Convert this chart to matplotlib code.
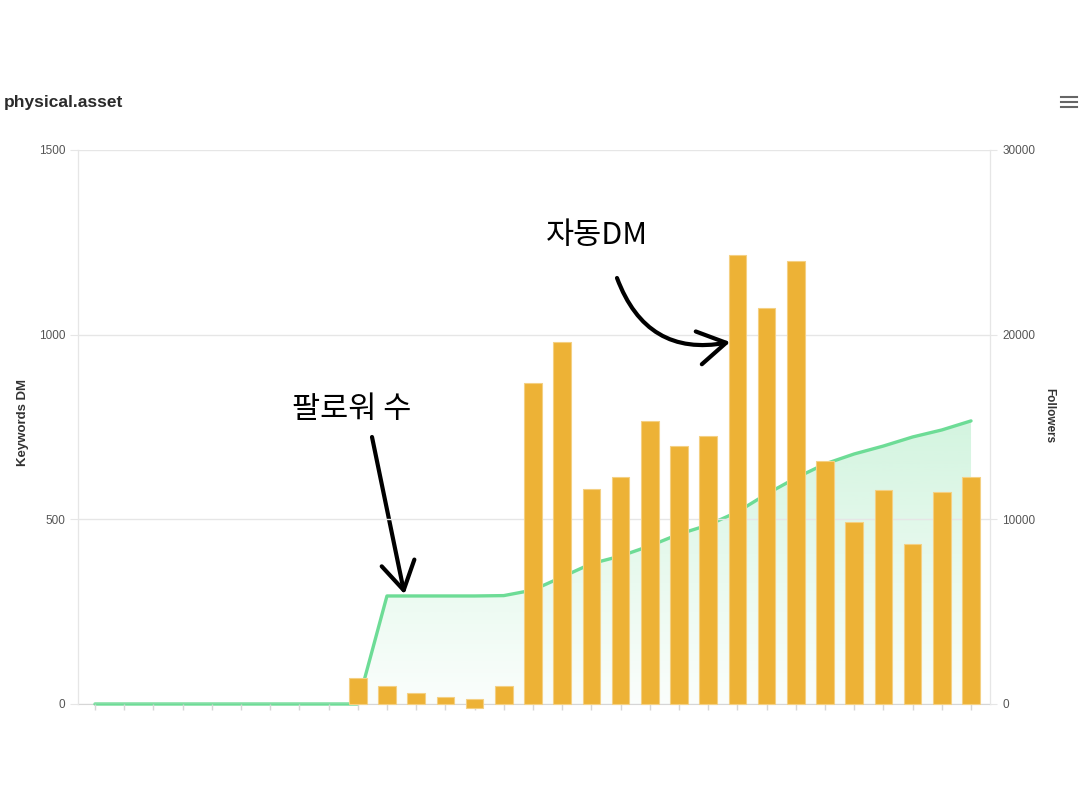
import numpy as np
import matplotlib
matplotlib.use('Agg')
import matplotlib.pyplot as plt
from matplotlib.patches import Polygon
from matplotlib.lines import Line2D

plt.rcParams['font.family'] = ['Liberation Sans', 'DejaVu Sans']

# 데이터
days = np.arange(31)
keyword_dm = [0] * 9 + [70, 49, 30, 19, 14, 49, 869, 980, 582, 615, 766,
                        699, 726, 1216, 1072, 1200, 658, 493, 580, 433, 574, 615]
dm_base = [0] * 13 + [-10] + [0] * 17   # 13번째 막대는 0 아래로 조금 내려감
followers = [0] * 10 + [5850, 5850, 5850, 5850, 5870, 6170, 6880, 7600, 8010,
                        8560, 9200, 9690, 10400, 11370, 12240, 13000, 13540,
                        13970, 14460, 14840, 15330]
left_ticks = [0, 500, 1000, 1500]
right_ticks = [0, 10000, 20000, 30000]

bar_color = '#edb236'
line_color = '#6ddc96'
grid_color = '#e6e6e6'

fig = plt.figure(figsize=(10.8, 8), dpi=100)
ax = fig.add_axes([78 / 1080, 96 / 800, 912 / 1080, 554 / 800])
ax2 = ax.twinx()

# 팔로워 (오른쪽 축) - 선 + 그라데이션 영역
verts = list(zip(days, followers)) + [(days[-1], 0), (days[0], 0)]
poly = Polygon(verts, closed=True, facecolor='none', edgecolor='none',
               transform=ax2.transData)
ax2.add_patch(poly)
grad = np.zeros((256, 1, 4))
grad[..., :3] = matplotlib.colors.to_rgb(line_color)
grad[..., 3] = np.linspace(0.30, 0.03, 256)[:, None]
im = ax2.imshow(grad, extent=[days[0], days[-1], 0, max(followers)],
                origin='upper', aspect='auto', zorder=1)
im.set_clip_path(poly)
ax2.plot(days, followers, color=line_color, lw=2.4, zorder=3, clip_on=False,
         solid_joinstyle='round', solid_capstyle='round')

# 키워드 DM (왼쪽 축) - 막대
dm = np.array(keyword_dm)
base = np.array(dm_base)
mask = dm > 0
bars = ax.bar(days[mask], (dm - base)[mask], bottom=base[mask], width=0.6,
              color=bar_color, edgecolor='#f4d083', linewidth=0.8, zorder=3)
for b in bars:
    b.set_clip_on(False)

ax.set_zorder(ax2.get_zorder() + 1)
ax.patch.set_visible(False)

ax.set_xlim(-0.58, 30.65)
ax.set_ylim(0, 1500)
ax2.set_ylim(0, 30000)
ax.set_yticks(left_ticks)
ax2.set_yticks(right_ticks)
ax.set_xticks(days)
ax.set_xticklabels([])

ax.yaxis.grid(True, color=grid_color, lw=1)
ax.set_axisbelow(True)

for a in (ax, ax2):
    for s in a.spines.values():
        s.set_color(grid_color)
    a.spines['top'].set_visible(False)
# 아래 축선은 뒤쪽 축에 그려서 초록 선이 위로 보이게
ax.spines['bottom'].set_visible(False)
ax2.spines['bottom'].set_color('#d6d6d6')
ax2.spines['bottom'].set_zorder(2)

ax.tick_params(axis='x', length=4, color='#d6d6d6', width=1)
ax.tick_params(axis='y', length=6, color=grid_color, labelsize=8.5,
               labelcolor='#555555', pad=3)
ax2.tick_params(axis='y', length=5, color=grid_color, labelsize=8.5,
                labelcolor='#555555', pad=4)

ax.set_ylabel('Keywords DM', fontsize=9.5, fontweight='bold', color='#333333',
              va='center')
ax.yaxis.set_label_coords(-0.060, 0.509)
ax2.set_ylabel('Followers', fontsize=8.5, fontweight='bold', color='#333333',
               rotation=270, va='center')
ax2.yaxis.set_label_coords(1.0647, 0.52)

# 제목, 메뉴 아이콘
fig.text(4 / 1080, 1 - 102 / 800, 'physical.asset', fontsize=12.5,
         fontweight='bold', color='#2b2b2b', va='center', ha='left')
for yy in (97, 102, 107):
    fig.add_artist(Line2D([1061 / 1080, 1077 / 1080], [1 - yy / 800] * 2,
                          color='#666666', lw=1.5))

# 손글씨 주석
kr = ['Noto Sans CJK KR', 'DejaVu Sans']
fig.text(352 / 1080, 1 - 410 / 800, '팔로워 수', family=kr, fontsize=22,
         fontweight='medium', ha='center', va='center', color='black')
fig.text(597 / 1080, 1 - 236 / 800, '자동DM', family=kr, fontsize=22,
         fontweight='medium', ha='center', va='center', color='black')

ax2.annotate('', xy=(10.6, 5950), xycoords='data',
             xytext=(372, 363), textcoords='figure pixels',
             arrowprops=dict(arrowstyle='->,head_length=1.0,head_width=0.6',
                             lw=3, color='black', mutation_scale=20,
                             shrinkA=0, shrinkB=0))
ax.annotate('', xy=(21.75, 980), xycoords='data',
            xytext=(617, 522), textcoords='figure pixels',
            arrowprops=dict(arrowstyle='->,head_length=1.0,head_width=0.6',
                            lw=3, color='black', mutation_scale=20,
                            shrinkA=0, shrinkB=0,
                            connectionstyle='arc3,rad=0.42'))

fig.savefig('out.png', dpi=100, facecolor='white')
